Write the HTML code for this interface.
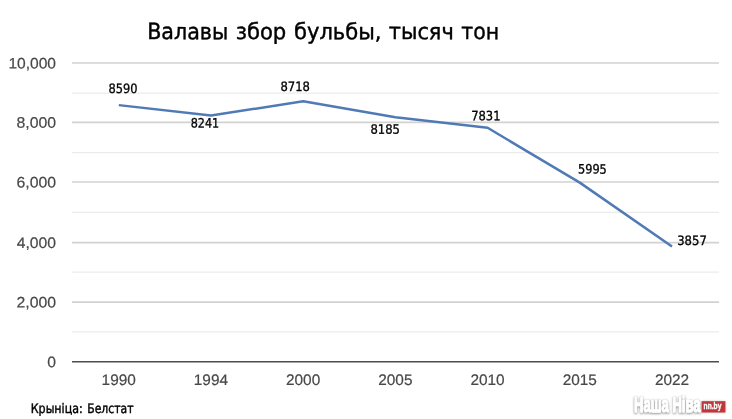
<!DOCTYPE html>
<html lang="be"><head><meta charset="utf-8"><title>Валавы збор бульбы</title>
<style>
html,body{margin:0;padding:0;background:#fff;}
body{width:732px;height:419px;overflow:hidden;position:relative;}
svg{display:block;position:absolute;left:0;top:0;}
.ax{font-family:"Liberation Sans",Arial,sans-serif;font-size:15.3px;fill:#484848;stroke:#484848;stroke-width:0.2px;}
.tah{font-family:"DejaVu Sans Condensed","DejaVu Sans","Liberation Sans",sans-serif;font-stretch:condensed;fill:#000;}
</style></head><body>
<svg width="732" height="419" viewBox="0 0 732 419">
<rect width="732" height="419" fill="#fff"/>

<line x1="72" x2="719.0" y1="331.88" y2="331.88" stroke="#ebebeb" stroke-width="1.2"/>
<line x1="72" x2="719.0" y1="302.10" y2="302.10" stroke="#d2d2d2" stroke-width="1.7"/>
<line x1="72" x2="719.0" y1="272.12" y2="272.12" stroke="#ebebeb" stroke-width="1.2"/>
<line x1="72" x2="719.0" y1="242.55" y2="242.55" stroke="#d2d2d2" stroke-width="1.7"/>
<line x1="72" x2="719.0" y1="212.38" y2="212.38" stroke="#ebebeb" stroke-width="1.2"/>
<line x1="72" x2="719.0" y1="182.00" y2="182.00" stroke="#d2d2d2" stroke-width="1.7"/>
<line x1="72" x2="719.0" y1="152.70" y2="152.70" stroke="#ebebeb" stroke-width="1.2"/>
<line x1="72" x2="719.0" y1="122.35" y2="122.35" stroke="#d2d2d2" stroke-width="1.7"/>
<line x1="72" x2="719.0" y1="93.20" y2="93.20" stroke="#ebebeb" stroke-width="1.2"/>
<line x1="72" x2="719.0" y1="63.00" y2="63.00" stroke="#d2d2d2" stroke-width="1.7"/>
<line x1="72" x2="719.0" y1="361.75" y2="361.75" stroke="#4d4d4d" stroke-width="1.5"/>
<text class="ax" transform="rotate(0.1 118.68 385)" x="118.68" y="385" text-anchor="middle" textLength="34.2" lengthAdjust="spacingAndGlyphs">1990</text>
<text class="ax" transform="rotate(0.1 210.90 385)" x="210.90" y="385" text-anchor="middle" textLength="34.2" lengthAdjust="spacingAndGlyphs">1994</text>
<text class="ax" transform="rotate(0.1 303.12 385)" x="303.12" y="385" text-anchor="middle" textLength="34.2" lengthAdjust="spacingAndGlyphs">2000</text>
<text class="ax" transform="rotate(0.1 395.34 385)" x="395.34" y="385" text-anchor="middle" textLength="34.2" lengthAdjust="spacingAndGlyphs">2005</text>
<text class="ax" transform="rotate(0.1 487.56 385)" x="487.56" y="385" text-anchor="middle" textLength="34.2" lengthAdjust="spacingAndGlyphs">2010</text>
<text class="ax" transform="rotate(0.1 579.78 385)" x="579.78" y="385" text-anchor="middle" textLength="34.2" lengthAdjust="spacingAndGlyphs">2015</text>
<text class="ax" transform="rotate(0.1 672.00 385)" x="672.00" y="385" text-anchor="middle" textLength="34.2" lengthAdjust="spacingAndGlyphs">2022</text>
<polyline points="118.80,105.12 211.00,115.55 303.20,101.30 395.40,117.22 487.60,127.80 579.80,182.65 672.00,246.52" fill="none" stroke="#507ab5" stroke-width="2.5" stroke-linejoin="round" stroke-linecap="butt"/>
<text id="t0" class="tah" transform="rotate(0.1 147.21 39.1)" x="147.21" y="39.1" font-size="22.3" stroke="#000" stroke-width="0.4" textLength="81.10" lengthAdjust="spacingAndGlyphs">Валавы</text>
<text id="t1" class="tah" transform="rotate(0.1 235.73 39.1)" x="235.73" y="39.1" font-size="22.3" stroke="#000" stroke-width="0.4" textLength="50.52" lengthAdjust="spacingAndGlyphs">збор</text>
<text id="t2" class="tah" transform="rotate(0.1 293.98 39.1)" x="293.98" y="39.1" font-size="22.3" stroke="#000" stroke-width="0.4" textLength="87.55" lengthAdjust="spacingAndGlyphs">бульбы,</text>
<text id="t3" class="tah" transform="rotate(0.1 388.75 39.1)" x="388.75" y="39.1" font-size="22.3" stroke="#000" stroke-width="0.4" textLength="65.03" lengthAdjust="spacingAndGlyphs">тысяч</text>
<text id="t4" class="tah" transform="rotate(0.1 461.24 39.1)" x="461.24" y="39.1" font-size="22.3" stroke="#000" stroke-width="0.4" textLength="37.79" lengthAdjust="spacingAndGlyphs">тон</text>
<text id="d0" class="tah" transform="rotate(0.1 108.50 93.0)" x="108.50" y="93.0" font-size="12.9" stroke="#000" stroke-width="0.3" textLength="29.00" lengthAdjust="spacingAndGlyphs">8590</text>
<text id="d1" class="tah" transform="rotate(0.1 190.74 127.4)" x="190.74" y="127.4" font-size="12.9" stroke="#000" stroke-width="0.3" textLength="28.52" lengthAdjust="spacingAndGlyphs">8241</text>
<text id="d2" class="tah" transform="rotate(0.1 280.50 91.0)" x="280.50" y="91.0" font-size="12.9" stroke="#000" stroke-width="0.3" textLength="29.50" lengthAdjust="spacingAndGlyphs">8718</text>
<text id="d3" class="tah" transform="rotate(0.1 370.48 133.8)" x="370.48" y="133.8" font-size="12.9" stroke="#000" stroke-width="0.3" textLength="29.53" lengthAdjust="spacingAndGlyphs">8185</text>
<text id="d4" class="tah" transform="rotate(0.1 471.23 120.2)" x="471.23" y="120.2" font-size="12.9" stroke="#000" stroke-width="0.3" textLength="29.30" lengthAdjust="spacingAndGlyphs">7831</text>
<text id="d5" class="tah" transform="rotate(0.1 578.00 173.6)" x="578.00" y="173.6" font-size="12.9" stroke="#000" stroke-width="0.3" textLength="28.76" lengthAdjust="spacingAndGlyphs">5995</text>
<text id="d6" class="tah" transform="rotate(0.1 677.24 245.0)" x="677.24" y="245.0" font-size="12.9" stroke="#000" stroke-width="0.3" textLength="29.53" lengthAdjust="spacingAndGlyphs">3857</text>
<text id="s0" class="tah" transform="rotate(0.1 30.74 412.9)" x="30.74" y="412.9" font-size="13.2" stroke="#000" stroke-width="0.4" textLength="52.02" lengthAdjust="spacingAndGlyphs">Крыніца:</text>
<text id="s1" class="tah" transform="rotate(0.1 87.25 412.9)" x="87.25" y="412.9" font-size="13.2" stroke="#000" stroke-width="0.4" textLength="46.25" lengthAdjust="spacingAndGlyphs">Белстат</text>
<text id="y0" class="ax" transform="rotate(0.1 47.25 367.2)" x="47.25" y="367.2" font-size="15.3" stroke="#484848" stroke-width="0.2" textLength="8.74" lengthAdjust="spacingAndGlyphs">0</text>
<text id="y2" class="ax" transform="rotate(0.1 16.50 307.55)" x="16.50" y="307.55" font-size="15.3" stroke="#484848" stroke-width="0.2" textLength="39.50" lengthAdjust="spacingAndGlyphs">2,000</text>
<text id="y4" class="ax" transform="rotate(0.1 16.75 248.0)" x="16.75" y="248.0" font-size="15.3" stroke="#484848" stroke-width="0.2" textLength="39.25" lengthAdjust="spacingAndGlyphs">4,000</text>
<text id="y6" class="ax" transform="rotate(0.1 16.50 187.45)" x="16.50" y="187.45" font-size="15.3" stroke="#484848" stroke-width="0.2" textLength="39.50" lengthAdjust="spacingAndGlyphs">6,000</text>
<text id="y8" class="ax" transform="rotate(0.1 16.50 127.8)" x="16.50" y="127.8" font-size="15.3" stroke="#484848" stroke-width="0.2" textLength="39.50" lengthAdjust="spacingAndGlyphs">8,000</text>
<text id="y10" class="ax" transform="rotate(0.1 8.49 68.45)" x="8.49" y="68.45" font-size="15.3" stroke="#484848" stroke-width="0.2" textLength="47.51" lengthAdjust="spacingAndGlyphs">10,000</text>
<rect x="701.6" y="401.2" width="23.8" height="11.3" fill="#c0363b" style="filter:drop-shadow(0.6px 0.8px 0.8px #bbb)"/>
<text id="lg" x="634.0" y="412.3" font-family="Liberation Sans,sans-serif" font-weight="bold" font-size="21.5" fill="#fff" stroke="#fff" stroke-width="1.3" stroke-linejoin="round" textLength="66.6" lengthAdjust="spacingAndGlyphs" style="filter:drop-shadow(0 0 0.4px #c4c4c4) drop-shadow(0.9px 1.5px 0.9px #999)">Наша Ніва</text>
<text id="by" x="703.6" y="409.3" font-family="Liberation Sans,sans-serif" font-weight="bold" font-size="8.2" fill="#fff" stroke="#fff" stroke-width="0.3" textLength="17.8" lengthAdjust="spacingAndGlyphs">nn.by</text>
</svg>
</body></html>
